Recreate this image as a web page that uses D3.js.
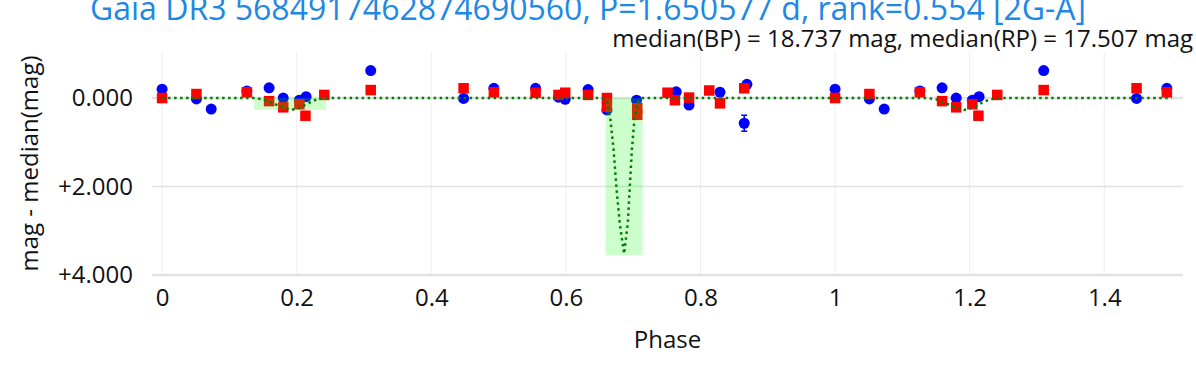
<!DOCTYPE html>
<html>
<head>
<meta charset="utf-8">
<script src="https://cdnjs.cloudflare.com/ajax/libs/d3/7.8.5/d3.min.js"></script>
<style>
  body { margin: 0; background: #fff; }
  svg { display: block; font-family: "Open Sans", sans-serif; }
</style>
</head>
<body>
<svg id="chart"></svg>
<script>
// Chart text
const titleText = 'Gaia DR3 5684917462874690560, P=1.650577 d, rank=0.554 [2G-A]';
const subtitleText = 'median(BP) = 18.737 mag, median(RP) = 17.507 mag';
const xTitle = 'Phase';
const yTitle = 'mag - median(mag)';

// Tick values / labels
const xTicks = [0, 0.2, 0.4, 0.6, 0.8, 1, 1.2, 1.4];
const xTickLabels = ['0', '0.2', '0.4', '0.6', '0.8', '1', '1.2', '1.4'];
const yTicks = [0, 2, 4];
const yTickLabels = ['0.000', '+2.000', '+4.000'];

// BP photometry (one cycle, phase 0..1)
const bpPhase = [0.000, 0.051, 0.073, 0.126, 0.159, 0.180, 0.204, 0.214, 0.310, 0.448, 0.493,
                 0.555, 0.589, 0.599, 0.633, 0.661, 0.705, 0.764, 0.783, 0.829, 0.869, 0.865];
const bpMag   = [-0.20, 0.02, 0.25, -0.16, -0.23, 0.00, 0.05, -0.03, -0.62, 0.01, -0.22,
                 -0.22, -0.02, 0.03, -0.19, 0.27, 0.05, -0.14, 0.16, -0.13, -0.31, 0.57];
const bpErr   = [0.05, 0.05, 0.05, 0.05, 0.05, 0.05, 0.05, 0.05, 0.05, 0.05, 0.05,
                 0.05, 0.05, 0.05, 0.05, 0.06, 0.06, 0.05, 0.05, 0.05, 0.06, 0.18];

// RP photometry (one cycle, phase 0..1)
const rpPhase = [0.000, 0.051, 0.126, 0.159, 0.180, 0.204, 0.213, 0.241, 0.310, 0.448, 0.493,
                 0.555, 0.589, 0.599, 0.633, 0.661, 0.661, 0.706, 0.706, 0.751, 0.762, 0.783,
                 0.813, 0.829, 0.865];
const rpMag   = [0.00, -0.09, -0.13, 0.07, 0.21, 0.14, 0.40, -0.07, -0.18, -0.22, -0.13,
                 -0.12, -0.07, -0.12, -0.07, 0.00, 0.20, 0.23, 0.38, -0.12, 0.05, -0.01,
                 -0.17, 0.12, -0.22];
const rpErr   = [0.03, 0.03, 0.03, 0.03, 0.03, 0.03, 0.03, 0.03, 0.03, 0.03, 0.03,
                 0.03, 0.03, 0.03, 0.03, 0.03, 0.03, 0.03, 0.03, 0.03, 0.03, 0.03,
                 0.03, 0.03, 0.03];

// Two-Gaussian model (one cycle)
const modelPhase = [0, 0.137, 0.150, 0.165, 0.180, 0.192, 0.205, 0.218, 0.230, 0.244, 0.5,
                    0.655, 0.661, 0.666, 0.671, 0.675, 0.680, 0.6865, 0.692, 0.695, 0.698,
                    0.702, 0.707, 0.712, 1.0];
const modelMag   = [0, 0, 0.03, 0.12, 0.22, 0.27, 0.22, 0.11, 0.03, 0, 0,
                    0, 0.08, 0.46, 1.18, 2.00, 2.83, 3.52, 2.83, 2.00, 1.18,
                    0.46, 0.10, 0, 0];

// Eclipse windows (shaded)
const eclStart = [0.137, 0.659];
const eclEnd   = [0.244, 0.714];
const eclDepth = [0.27, 3.55];

// Layout
const W = 1196, H = 368;
const plot = {left: 152, right: 1183, top: 52, bottom: 275};

const svg = d3.select('#chart').attr('width', W).attr('height', H);

const x = d3.scaleLinear().domain([-0.015, 1.517]).range([plot.left, plot.right]);
const y = d3.scaleLinear().domain([-1.04, 4]).range([plot.top, plot.bottom]);

// fold: repeat the first half cycle after phase 1
function fold(ph, mag, err) {
    const pts = ph.map((p, i) => ({p: p, m: mag[i], e: err ? err[i] : 0}));
    const extra = pts.filter(d => d.p <= 0.5).map(d => ({p: d.p + 1, m: d.m, e: d.e}));
    return pts.concat(extra).sort((a, b) => a.p - b.p);
}

const bp = fold(bpPhase, bpMag, bpErr);
const rp = fold(rpPhase, rpMag, rpErr);
const model = fold(modelPhase, modelMag);

// Grid
svg.append('g').selectAll('line')
    .data(xTicks)
    .enter().append('line')
    .attr('x1', d => x(d)).attr('x2', d => x(d))
    .attr('y1', plot.top).attr('y2', plot.bottom)
    .attr('stroke', '#eeeeee').attr('stroke-width', 1);

svg.append('g').selectAll('line')
    .data(yTicks)
    .enter().append('line')
    .attr('x1', plot.left).attr('x2', plot.right)
    .attr('y1', d => y(d)).attr('y2', d => y(d))
    .attr('stroke', '#e2e2e2').attr('stroke-width', (d, i) => i === 1 ? 1.5 : 2.5);

// Axes (labels only)
const xAxis = svg.append('g')
    .attr('transform', `translate(0,${plot.bottom})`)
    .call(d3.axisBottom(x).tickValues(xTicks).tickSize(0).tickPadding(14)
        .tickFormat((d, i) => xTickLabels[i]));
xAxis.select('.domain').remove();
xAxis.selectAll('text').attr('font-size', 24).attr('font-family', '"Open Sans", sans-serif').attr('fill', '#111');

const yAxis = svg.append('g')
    .attr('transform', `translate(${plot.left},0)`)
    .call(d3.axisLeft(y).tickValues(yTicks).tickSize(0).tickPadding(19)
        .tickFormat((d, i) => yTickLabels[i]));
yAxis.select('.domain').remove();
yAxis.selectAll('text').attr('font-size', 24).attr('font-family', '"Open Sans", sans-serif').attr('fill', '#111');

// Error bars
function errorBars(data, color) {
    const g = svg.append('g').attr('stroke', color).attr('stroke-width', 1.5);
    g.selectAll('.eb').data(data).enter().append('line')
        .attr('x1', d => x(d.p)).attr('x2', d => x(d.p))
        .attr('y1', d => y(d.m - d.e)).attr('y2', d => y(d.m + d.e));
    g.selectAll('.cap1').data(data).enter().append('line')
        .attr('x1', d => x(d.p) - 3).attr('x2', d => x(d.p) + 3)
        .attr('y1', d => y(d.m - d.e)).attr('y2', d => y(d.m - d.e));
    g.selectAll('.cap2').data(data).enter().append('line')
        .attr('x1', d => x(d.p) - 3).attr('x2', d => x(d.p) + 3)
        .attr('y1', d => y(d.m + d.e)).attr('y2', d => y(d.m + d.e));
}
errorBars(bp, '#0000ff');
errorBars(rp, '#ff0000');

// BP points
svg.append('g').selectAll('circle')
    .data(bp)
    .enter().append('circle')
    .attr('cx', d => x(d.p))
    .attr('cy', d => y(d.m))
    .attr('r', 5.5)
    .attr('fill', '#0000ff');

// RP points
svg.append('g').selectAll('rect')
    .data(rp)
    .enter().append('rect')
    .attr('x', d => x(d.p) - 5.25)
    .attr('y', d => y(d.m) - 5.25)
    .attr('width', 10.5)
    .attr('height', 10.5)
    .attr('fill', '#ff0000');

// Eclipse shading
svg.append('g').selectAll('rect')
    .data(eclStart)
    .enter().append('rect')
    .attr('x', (d, i) => x(d))
    .attr('width', (d, i) => x(eclEnd[i]) - x(d))
    .attr('y', y(0))
    .attr('height', (d, i) => y(eclDepth[i]) - y(0))
    .attr('fill', '#00ff00')
    .attr('fill-opacity', 0.2);

// Model
const line = d3.line().x(d => x(d.p)).y(d => y(d.m));
svg.append('path')
    .datum(model)
    .attr('d', line)
    .attr('fill', 'none')
    .attr('stroke', '#008000')
    .attr('stroke-width', 2.5)
    .attr('stroke-dasharray', '2.5,3.5');

// Titles
svg.append('text')
    .attr('x', 588).attr('y', 20)
    .attr('text-anchor', 'middle')
    .attr('font-size', 32)
    .attr('fill', '#1e88e5')
    .text(titleText);

svg.append('text')
    .attr('x', 1193).attr('y', 47)
    .attr('text-anchor', 'end')
    .attr('font-size', 24)
    .attr('fill', '#111')
    .text(subtitleText);

svg.append('text')
    .attr('x', (plot.left + plot.right) / 2).attr('y', 348)
    .attr('text-anchor', 'middle')
    .attr('font-size', 24)
    .attr('fill', '#111')
    .text(xTitle);

svg.append('text')
    .attr('transform', `translate(38,${(plot.top + plot.bottom) / 2}) rotate(-90)`)
    .attr('text-anchor', 'middle')
    .attr('font-size', 24)
    .attr('fill', '#111')
    .text(yTitle);
</script>
</body>
</html>
